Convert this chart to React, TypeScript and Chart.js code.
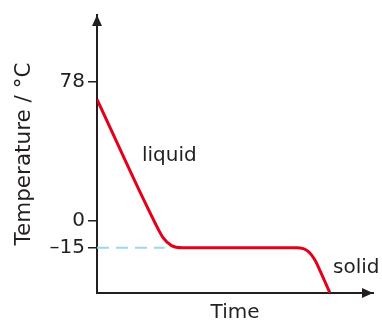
import React, { useEffect, useRef } from "react";
import { Chart, registerables } from "chart.js";

Chart.register(...registerables);

// Cooling curve (schematic): time (0-100 arbitrary) vs temperature / °C
const timeValues = [0, 21, 24, 27, 31, 72.5, 76.5, 79, 81, 84.4];
const tempValues = [68, -1, -9.5, -13.8, -15, -15, -17, -22, -28.5, -40.3];

// Dashed guide at the freezing point
const guideTime = [0, 24.5];
const guideTemp = [-15, -15];

const yTickValues = [78, 0, -15];
const yTickLabels = ["78", "0", "–15"];

const phaseLabels = ["liquid", "solid"];
const phaseLabelTime = [16.3, 85.5];
const phaseLabelTemp = [36.4, -26.4];

const FONT = "'DejaVu Sans', sans-serif";
const INK = "#231f20";

export default function App() {
  const ref = useRef<HTMLCanvasElement | null>(null);

  useEffect(() => {
    if (!ref.current) return;

    const arrowPlugin = {
      id: "arrows",
      afterDraw(chart: any) {
        const { ctx, chartArea } = chart;
        const { left, right, top, bottom } = chartArea;
        ctx.save();
        ctx.fillStyle = INK;
        // y-axis arrow
        ctx.beginPath();
        ctx.moveTo(left, top);
        ctx.lineTo(left - 5, top + 11);
        ctx.lineTo(left + 5, top + 11);
        ctx.closePath();
        ctx.fill();
        // x-axis arrow
        ctx.beginPath();
        ctx.moveTo(right, bottom);
        ctx.lineTo(right - 11, bottom - 5);
        ctx.lineTo(right - 11, bottom + 5);
        ctx.closePath();
        ctx.fill();
        // phase labels
        const xs = chart.scales.x;
        const ys = chart.scales.y;
        ctx.font = `20px ${FONT}`;
        ctx.textAlign = "left";
        ctx.textBaseline = "middle";
        phaseLabels.forEach((t, i) => {
          ctx.fillText(t, xs.getPixelForValue(phaseLabelTime[i]), ys.getPixelForValue(phaseLabelTemp[i]));
        });
        ctx.restore();
      },
    };

    const chart = new Chart(ref.current, {
      type: "line",
      data: {
        datasets: [
          {
            data: timeValues.map((x, i) => ({ x, y: tempValues[i] })),
            borderColor: "#e2001a",
            borderWidth: 3,
            pointRadius: 0,
            cubicInterpolationMode: "monotone",
            fill: false,
            order: 0,
          },
          {
            data: guideTime.map((x, i) => ({ x, y: guideTemp[i] })),
            borderColor: "#9dd6f2",
            borderWidth: 2,
            borderDash: [12, 7],
            pointRadius: 0,
            fill: false,
            order: 1,
          },
        ],
      },
      plugins: [arrowPlugin],
      options: {
        animation: false,
        responsive: false,
        maintainAspectRatio: false,
        layout: { padding: { top: 13, right: 9, left: 0, bottom: 0 } },
        plugins: { legend: { display: false }, tooltip: { enabled: false } },
        scales: {
          x: {
            type: "linear",
            min: 0,
            max: 100,
            grid: { display: false },
            ticks: { display: false },
            border: { display: true, color: INK, width: 2 },
            title: {
              display: true,
              text: "Time",
              color: INK,
              font: { family: FONT, size: 20, lineHeight: 1 },
              padding: { top: 0, bottom: 0 },
            },
            afterFit(scale: any) {
              scale.height = 30;
            },
          },
          y: {
            type: "linear",
            min: -40.3,
            max: 115.3,
            grid: {
              display: true,
              drawOnChartArea: false,
              drawTicks: true,
              tickLength: 9,
              color: INK,
              lineWidth: 1.5,
            },
            border: { display: true, color: INK, width: 2 },
            afterBuildTicks(scale: any) {
              scale.ticks = yTickValues.map((v) => ({ value: v }));
            },
            ticks: {
              color: INK,
              padding: 3,
              font: { family: FONT, size: 20 },
              callback: (v: any) => {
                const i = yTickValues.indexOf(Number(v));
                return i >= 0 ? yTickLabels[i] : "";
              },
            },
            title: {
              display: true,
              text: "Temperature / °C",
              color: INK,
              font: { family: FONT, size: 21.5, lineHeight: 1 },
              padding: { top: 14, bottom: 0 },
            },
            afterFit(scale: any) {
              scale.width = 97;
            },
          },
        },
      },
    } as any);

    return () => chart.destroy();
  }, []);

  return (
    <div style={{ position: "fixed", left: 0, top: 0, width: 382, height: 323, background: "#fff" }}>
      <canvas ref={ref} width={382} height={323} style={{ width: 382, height: 323, display: "block" }} />
    </div>
  );
}
